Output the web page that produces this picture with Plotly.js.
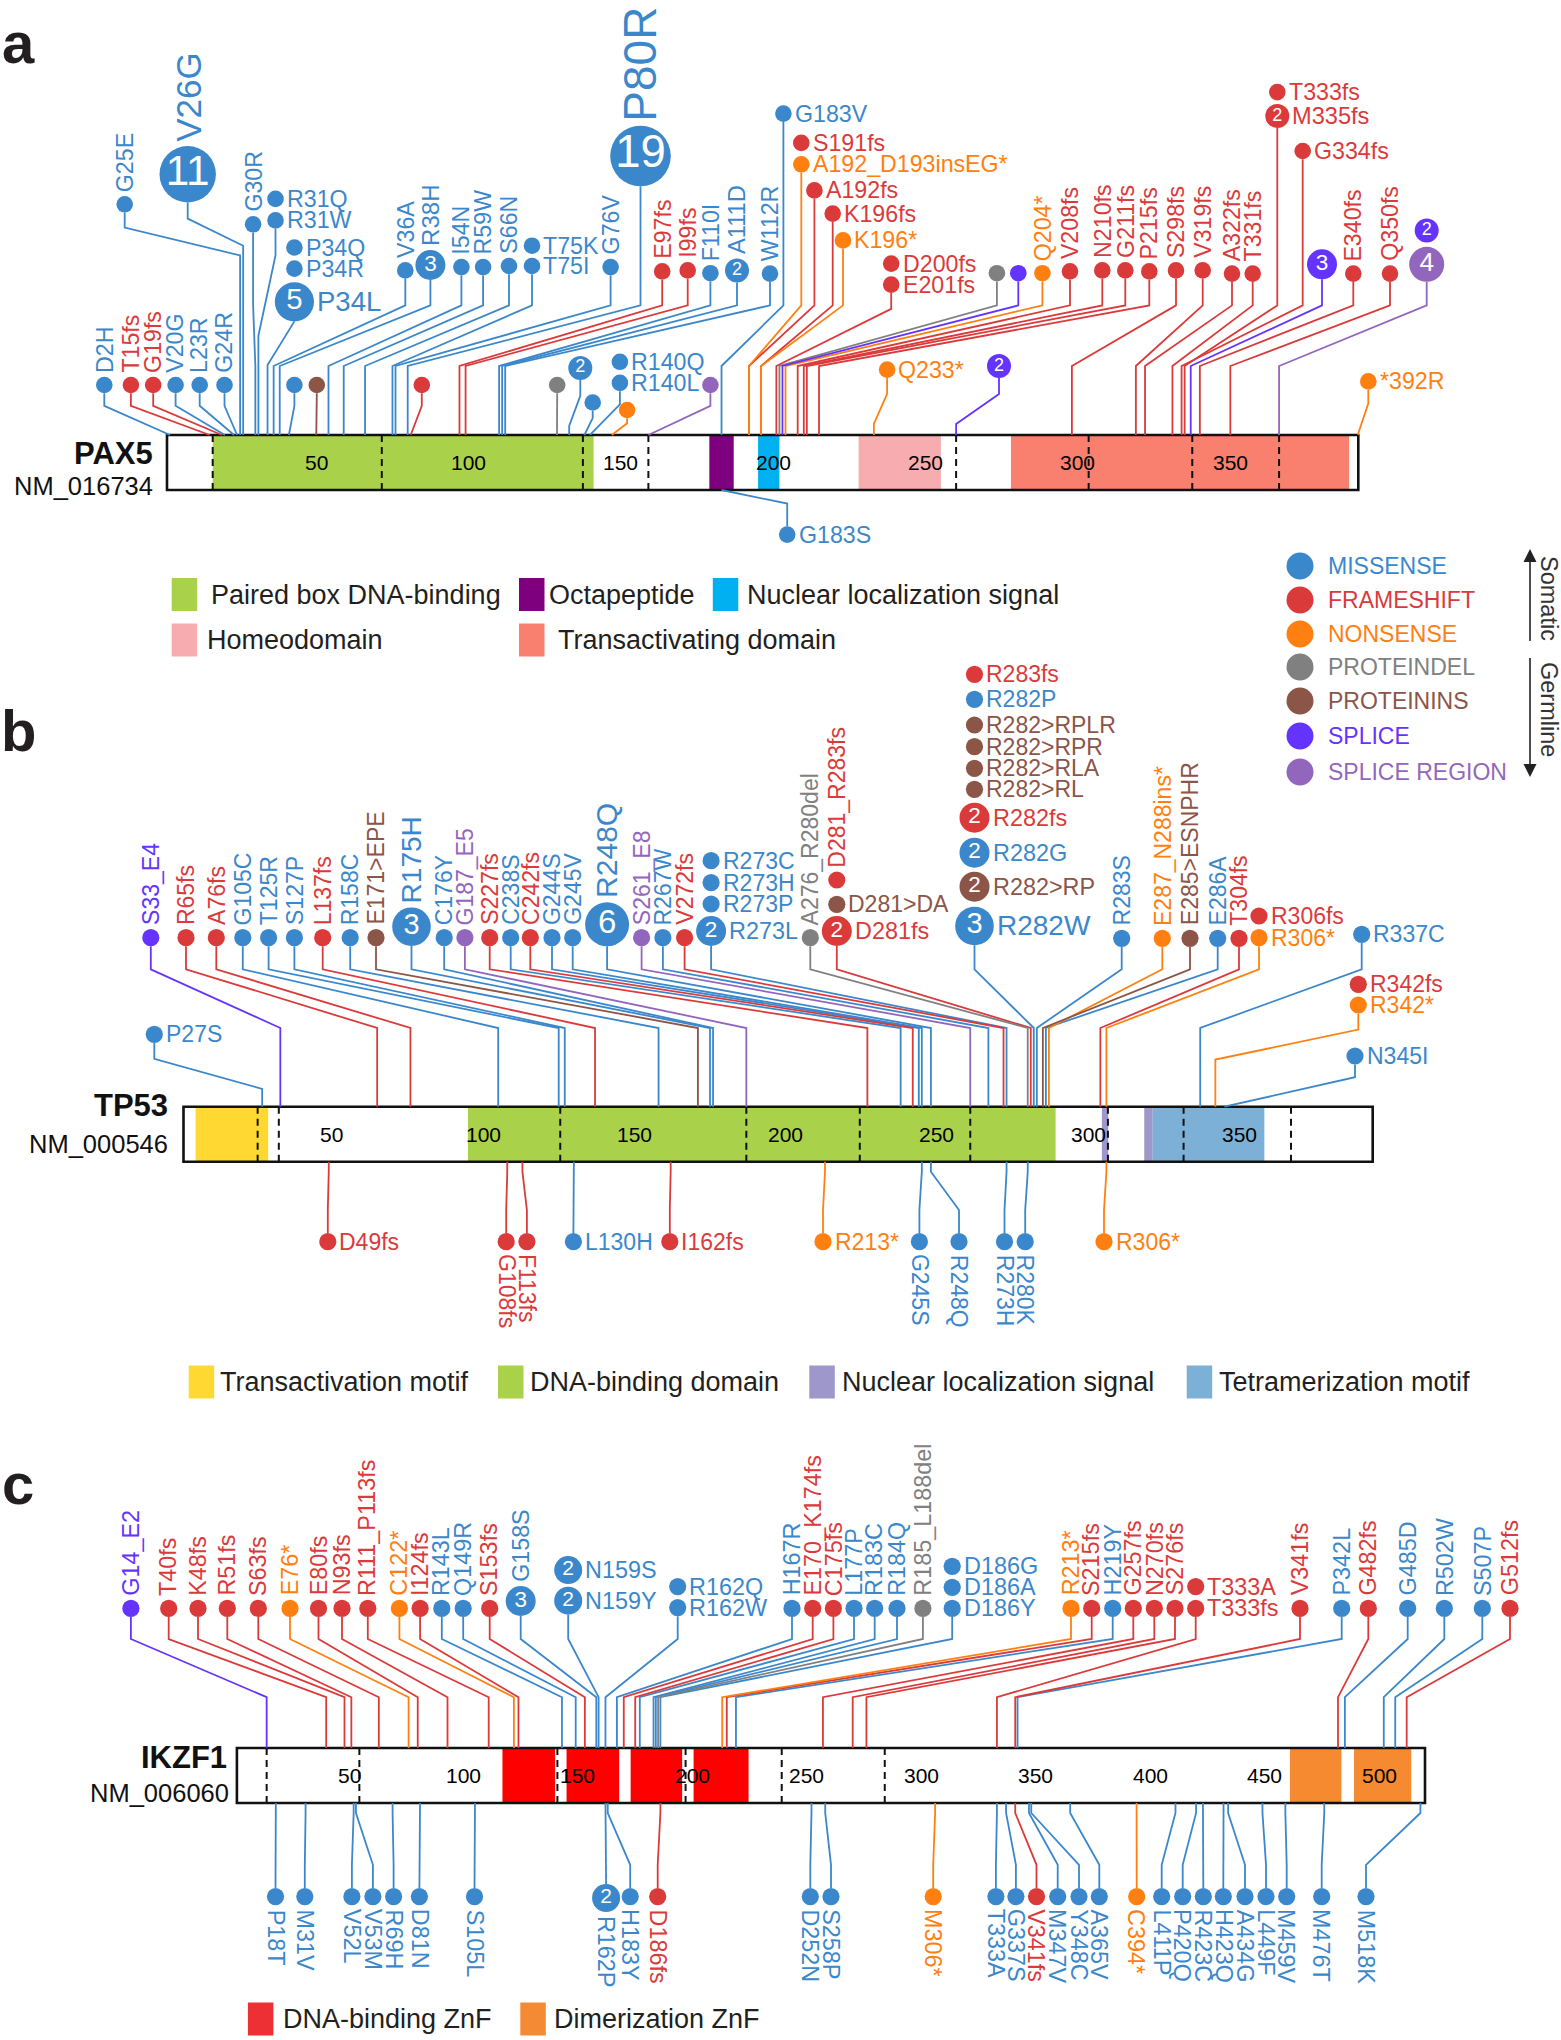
<!DOCTYPE html>
<html>
<head>
<meta charset="utf-8">
<script src="https://cdn.plot.ly/plotly-3.0.1.min.js"></script>
<style>html,body{margin:0;padding:0;background:#fff;}#chart{width:1561px;height:2040px;}</style>
</head>
<body>
<div id="chart"></div>
<script>
// ===================== DATA =====================
const mutTypes = ['MISSENSE','FRAMESHIFT','NONSENSE','PROTEINDEL','PROTEININS','SPLICE','SPLICE REGION'];

// ---------- PAX5 ----------
const pax5Gene = 'PAX5', pax5Tx = 'NM_016734', pax5Length = 391;
const pax5Ticks = [50,100,150,200,250,300,350];
const pax5ExonBounds = [16,71.5,137.5,159,260,303.5,337.5,366];
const pax5DomainNames = ['Paired box DNA-binding','Octapeptide','Nuclear localization signal','Homeodomain','Transactivating domain'];
const pax5DomainStart = [16,179,195,228,278];
const pax5DomainEnd = [141,187,202,255,389];
const pax5Label = ['D2H','T15fs','G19fs','V20G','L23R','G24R','G25E','V26G','G30R','R31Q',
 'R31W','P34Q','P34R','P34L','','','','V36A','R38H','I54N',
 'R59W','S66N','T75K','T75I','G76V','P80R','E97fs','I99fs','F110I','A111D',
 'W112R','','','','R140Q','R140L','','','G183V','G183S',
 'S191fs','A192_D193insEG*','A192fs','K196fs','K196*','D200fs','E201fs','','','Q204*',
 'V208fs','N210fs','G211fs','P215fs','Q233*','','S298fs','V319fs','A322fs','T331fs',
 'T333fs','M335fs','G334fs','','E340fs','Q350fs','','','*392R'];
const pax5Pos = [2,15,19,20,23,24,25,26,30,31,
 31,34,34,34,41,50,81,36,38,54,
 59,66,75,75,76,80,97,99,110,111,
 112,129,133,138,140,140,147,159,183,183,
 191,192,192,196,196,200,201,202,203,204,
 208,210,211,215,233,260,298,319,322,331,
 333,335,334,337,340,350,366,366,392];
const pax5Type = [0,1,1,0,0,0,0,0,0,0,
 0,0,0,0,0,4,1,0,0,0,
 0,0,0,0,0,0,1,1,0,0,
 0,3,0,0,0,0,2,6,0,0,
 1,2,1,1,2,1,1,3,5,2,
 1,1,1,1,2,5,1,1,1,1,
 1,1,1,5,1,1,5,6,2];
const pax5Count = [1,1,1,1,1,1,1,11,1,1,
 1,1,1,5,1,1,1,1,3,1,
 1,1,1,1,1,19,1,1,1,2,
 1,1,2,1,1,1,1,1,1,1,
 1,1,1,1,1,1,1,1,1,1,
 1,1,1,1,1,2,1,1,1,1,
 1,2,1,3,1,1,2,4,1];

// ---------- TP53 ----------
const tp53Gene = 'TP53', tp53Tx = 'NM_000546', tp53Length = 393;
const tp53Ticks = [50,100,150,200,250,300,350];
const tp53ExonBounds = [25.5,32.5,125.5,187,224.5,261,306.5,331.5,367];
const tp53DomainNames = ['Transactivation motif','DNA-binding domain','Nuclear localization signal','Nuclear localization signal','Tetramerization motif'];
const tp53DomainStart = [5,95,304.5,318.5,321.3];
const tp53DomainEnd = [29,289.2,306.6,321.3,358.2];
const tp53Label = ['P27S','S33_E4','R65fs','A76fs','G105C','T125R','S127P','L137fs','R158C','E171>EPE',
 'R175H','C176Y','G187_E5','S227fs','C238S','C242fs','G244S','G245V','R248Q','S261_E8',
 'R267W','V272fs','R273C','R273H','R273P','R273L','A276_R280del','D281_R283fs','D281>DA','D281fs',
 'R283fs','R282P','R282>RPLR','R282>RPR','R282>RLA','R282>RL','R282fs','R282G','R282>RP','R282W',
 'R283S','E287_N288ins*','E285>ESNPHR','E286A','T304fs','R306fs','R306*','R337C','R342fs','R342*',
 'N345I','D49fs','G108fs','F113fs','L130H','I162fs','R213*','G245S','R248Q','R273H',
 'R280K','R306*'];
const tp53Pos = [27,33,65,76,105,125,127,137,158,171,
 175,176,187,227,238,242,244,245,248,261,
 267,272,273,273,273,273,280,281,281,281,
 283,282,282,282,282,282,282,282,282,282,
 283,287,285,286,304,306,306,337,342,342,
 345,49,108,113,130,162,213,245,248,273,
 280,306];
const tp53Type = [0,5,1,1,0,0,0,1,0,4,
 0,0,6,1,0,1,0,0,0,6,
 0,1,0,0,0,0,3,1,4,1,
 1,0,4,4,4,4,1,0,4,0,
 0,2,4,0,1,1,2,0,1,2,
 0,1,1,1,0,1,2,0,0,0,
 0,2];
const tp53Count = [1,1,1,1,1,1,1,1,1,1,
 3,1,1,1,1,1,1,1,6,1,
 1,1,1,1,1,2,1,1,1,2,
 1,1,1,1,1,1,2,2,2,3,
 1,1,1,1,1,1,1,1,1,1,
 1,1,1,1,1,1,1,1,1,1,
 1,1];

// ---------- IKZF1 ----------
const ikzf1Gene = 'IKZF1', ikzf1Tx = 'NM_006060', ikzf1Length = 519;
const ikzf1Ticks = [50,100,150,200,250,300,350,400,450,500];
const ikzf1ExonBounds = [14,54.5,141,197,239,284];
const ikzf1DomainNames = ['DNA-binding ZnF','DNA-binding ZnF','DNA-binding ZnF','DNA-binding ZnF','Dimerization ZnF','Dimerization ZnF'];
const ikzf1DomainStart = [117,145,173,200.5,461,489];
const ikzf1DomainEnd = [140,168,195.5,224.5,483.5,514];
const ikzf1Label = ['G14_E2','T40fs','K48fs','R51fs','S63fs','E76*','E80fs','N93fs','R111_P113fs','C122*',
 'I124fs','R143L','Q149R','S153fs','G158S','N159S','N159Y','R162Q','R162W','H167R',
 'E170_K174fs','C175fs','L177P','R183C','R184Q','R185_L188del','D186G','D186A','D186Y','R213*',
 'S215fs','H219Y','G257fs','N270fs','S276fs','T333A','T333fs','V341fs','P342L','G482fs',
 'G485D','R502W','S507P','G512fs','P18T','M31V','V52L','V53M','R69H','D81N',
 'S105L','R162P','H183Y','D186fs','D252N','S258P','M306*','T333A','G337S','V341fs',
 'M347V','Y348C','A365V','C394*','L411P','P420Q','R423C','H423Q','A434G','L449F',
 'M459V','M476T','M518K'];
const ikzf1Pos = [14,40,48,51,63,76,80,93,111,122,
 124,143,149,153,158,159,159,162,162,167,
 170,175,177,183,184,185,186,186,186,213,
 215,219,257,270,276,333,333,341,342,482,
 485,502,507,512,18,31,52,53,69,81,
 105,162,163,186,252,258,306,333,337,341,
 347,348,365,394,411,420,423,432,434,449,
 459,476,518];
const ikzf1Type = [5,1,1,1,1,2,1,1,1,2,
 1,0,0,1,0,0,0,0,0,0,
 1,1,0,0,0,3,0,0,0,2,
 1,0,1,1,1,1,1,1,0,1,
 0,0,0,1,0,0,0,0,0,0,
 0,0,0,1,0,0,2,0,0,1,
 0,0,0,2,0,0,0,0,0,0,
 0,0,0];
const ikzf1Count = [1,1,1,1,1,1,1,1,1,1,
 1,1,1,1,3,2,2,1,1,1,
 1,1,1,1,1,1,1,1,1,1,
 1,1,1,1,1,1,1,1,1,1,
 1,1,1,1,1,1,1,1,1,1,
 1,2,1,1,1,1,1,1,1,1,
 1,1,1,1,1,1,1,1,1,1,
 1,1,1];

// ===================== STYLE / LAYOUT =====================
const FONT = 'Liberation Sans, Arial, Helvetica, sans-serif';
const W = 1561, H = 2040, BAR_H = 55;
const mutColors = ['#3b87cb','#db3a3b','#ff8011','#808080','#8b5547','#6433fe','#9366bd'];
const pax5DomainColors = ['#a9d14a','#7f007f','#00b0f0','#f7adb0','#f9806f'];
const tp53DomainColors = ['#ffd932','#a9d14a','#9d97cb','#9d97cb','#7db0d6'];
const ikzf1DomainColors = ['#ff0000','#ff0000','#ff0000','#ff0000','#f58a31','#f58a31'];
const radiusByCount = {a:{1:8.3,2:12,3:15,4:17.5,5:19.6,11:28.2,19:30.3}, b:{1:8.6,2:15,3:19.3,6:22}, c:{1:8.6,2:14,3:15}};
const fontByCount = {a:{1:23.2,2:23.6,3:24,4:24,5:27.5,11:35,19:46}, b:{1:23,2:23.4,3:28,6:30}, c:{1:23.4,2:23.4,3:23.2}};
const panelGeom = {
  a:{barLeft:167, barRight:1358.3, barTop:435, top:0, bottom:660, E2:129.6, E1:69, bE2:13.6, bE1:4.6},
  b:{barLeft:183.5, barRight:1372.7, barTop:1106.7, top:660, bottom:1430, E2:137.4, E1:78.7, bE2:48.3, bE1:10},
  c:{barLeft:236.9, barRight:1425, barTop:1748, top:1430, bottom:2040, E2:109, E1:50.8, bE2:61.8, bE1:10}
};
// lollipop head placement (label-dodging layout, page px): [x, y, labelMode, elbowHi?, elbowLo?]
const pax5Head = [
 [104.3,385,'v'],[130.9,385,'v'],[153.2,385,'v'],[175.6,385,'v'],[199.7,385,'v'],[224.5,385,'v'],
 [124.7,204.3,'v',207.5,179.6],[187.7,174.3,'v',216.4,189.3],[253.1,224.3,'v'],[275.5,198.9,'h'],
 [275.5,220.4,'h',179.6,99.3],[294.4,247.5,'h'],[294.4,268.6,'h'],[294.4,301.8,'h',113.6,70],[294.4,385,'n'],[316.8,385,'n'],[421.8,385,'n'],[405.3,270.4,'v'],[430.4,265,'v'],[461.4,267.1,'v'],
 [483.1,267.1,'v'],[509,266,'v'],[532,245.7,'h'],[532,266,'h'],[610.6,267.1,'v'],[640.5,156,'v'],[662.2,271.4,'v'],[687.7,270.4,'v'],[710.4,273.2,'v'],[737,270.4,'v'],
 [770,273.6,'v'],[557.2,385,'n'],[580.3,367.9,'n'],[592.7,402.5,'n'],[619.9,361.8,'h'],[619.9,382.9,'h'],[627.1,410,'n'],[710.4,385,'n'],[783.4,113.6,'h'],[787.2,534.6,'h'],
 [801.3,142.9,'h'],[801.3,164.3,'h'],[814.4,190.4,'h'],[832.7,213.6,'h'],[843,240.4,'h'],[891.2,263.6,'h'],[891.2,284.6,'h'],[996.9,273.2,'n'],[1018.3,273.2,'n'],[1042.4,273.2,'v'],
 [1070,271.4,'v'],[1102.3,270.4,'v'],[1125.3,270.4,'v'],[1149.3,271.4,'v'],[887.1,369.6,'h'],[999,366,'n'],[1176,270.4,'v'],[1202.7,270.4,'v'],[1232,273.6,'v'],[1252.7,273.6,'v'],
 [1277.3,92.1,'h'],[1277.3,116,'h'],[1302.7,151,'h'],[1322,264.3,'n'],[1353.3,273.6,'v'],[1390,273.6,'v'],[1426.7,230.4,'n'],[1426.7,264.3,'n'],[1368.3,381.4,'h']
];
const tp53Head = [
 [154.3,1034.3,'h'],[150.8,937.7,'v'],[186,937.7,'v'],[216.3,937.7,'v'],[242.8,937.7,'v'],[268.6,937.7,'v'],[294.4,937.7,'v'],[322.7,937.7,'v'],[350.2,937.7,'v'],[376,937.7,'v'],
 [411.5,926.7,'v'],[444.2,937.7,'v'],[464.9,937.7,'v'],[489.7,937.7,'v'],[510.7,937.7,'v'],[530.3,937.7,'v'],[552,937.7,'v'],[572.7,937.7,'v'],[607.1,924.3,'v'],[641.6,937.7,'v'],
 [662.9,937.7,'v'],[684.6,937.7,'v'],[711.1,860.7,'h'],[711.1,882.7,'h'],[711.1,904,'h'],[711.1,931,'h'],[810.3,937.7,'v'],[836.8,880,'v'],[836.8,904.3,'h'],[836.8,931,'h'],
 [974.5,674.3,'h'],[974.5,699.3,'h'],[974.5,725,'h'],[974.5,746.7,'h'],[974.5,768.3,'h'],[974.5,789.3,'h'],[974.5,817.7,'h'],[974.5,852.7,'h'],[974.5,886.7,'h'],[974.5,926,'h'],
 [1121.7,938.3,'v'],[1162.3,938.3,'v'],[1190,938.3,'v'],[1217.7,938.3,'v'],[1239,938.3,'v'],[1259,916,'h'],[1259,937.7,'h'],[1361.7,934.3,'h'],[1358.3,984.3,'h'],[1358.3,1005,'h'],
 [1355,1056,'h'],[327.8,1241.7,'h'],[506.2,1241.7,'d'],[526.9,1241.7,'d'],[573.4,1241.7,'h'],[669.8,1241.7,'h'],[823,1241.7,'h'],[919.4,1241.7,'d'],[959,1241.7,'d'],[1004.5,1241.7,'d'],
 [1025.2,1241.7,'d'],[1104,1241.7,'h']
];
const ikzf1Head = [
 [130.9,1608.4,'v'],[168.7,1608.4,'v'],[198,1608.4,'v'],[227.3,1608.4,'v'],[258.3,1608.4,'v'],[290,1608.4,'v'],[318.5,1608.4,'v'],[342,1608.4,'v'],[367.8,1608.4,'v'],[399.4,1608.4,'v'],
 [420.1,1608.4,'v'],[441.8,1608.4,'v'],[463.2,1608.4,'v'],[489.7,1608.4,'v'],[520.7,1601,'v'],[568.2,1570.1,'h'],[568.2,1600.7,'h'],[677.7,1586.6,'h'],[677.7,1607.6,'h'],[792,1608.4,'v'],
 [812.7,1608.4,'v'],[833.4,1608.4,'v'],[854,1608.4,'v'],[874.7,1608.4,'v'],[897,1608.4,'v'],[922.9,1608.4,'v'],[952.2,1566.3,'h'],[952.2,1587.3,'h'],[952.2,1608.4,'h'],[1071,1608.4,'v'],
 [1091.7,1608.4,'v'],[1112.7,1608.4,'v'],[1133.3,1608.4,'v'],[1154.3,1608.4,'v'],[1175,1608.4,'v'],[1195.7,1586.6,'h'],[1195.7,1608.4,'h'],[1300,1608.4,'v'],[1341.7,1608.4,'v'],[1368.3,1608.4,'v'],
 [1407.7,1608.4,'v'],[1444.3,1608.4,'v'],[1482.3,1608.4,'v'],[1510,1608.4,'v'],[275.5,1896.6,'d'],[304.8,1896.6,'d'],[351.9,1896.6,'d'],[372.9,1896.6,'d'],[393.6,1896.6,'d'],[419.4,1896.6,'d'],
 [474.5,1896.6,'d'],[606.1,1898,'d'],[630.2,1896.6,'d'],[657.7,1896.6,'d'],[810.3,1896.6,'d'],[831,1896.6,'d'],[933.2,1896.6,'d'],[995.9,1896.6,'d'],[1015.9,1896.6,'d'],[1036.5,1896.6,'d'],
 [1057.7,1896.6,'d'],[1079,1896.6,'d'],[1099.3,1896.6,'d'],[1136.7,1896.6,'d'],[1161.7,1896.6,'d'],[1182.7,1896.6,'d'],[1203.3,1896.6,'d'],[1223.3,1896.6,'d'],[1245,1896.6,'d'],[1266,1896.6,'d'],
 [1286.7,1896.6,'d'],[1321.7,1896.6,'d'],[1366,1896.6,'d']
];
// domain legend placement: [squareLeft, textLeft, centerY] per unique domain name
const pax5LegendPos = [[171.7,210.7,594.5],[519,549,594.5],[712.8,746.7,594.5],[171.7,206.8,640],[519,558,640]];
const tp53LegendPos = [[188.7,220.4,1382],[498,530.3,1382],[809.3,842,1382],[1186.7,1219.3,1382]];
const ikzf1LegendPos = [[247.9,283,2019],[520.3,554.4,2019]];
const ikzf1LegendColors = ['#ec3033','#f58a35'];

// ===================== BUILD =====================
const traces = [], shapes = [], annotations = [];
const layout = {
  width: W, height: H, margin:{l:0,r:0,t:0,b:0},
  paper_bgcolor:'#ffffff', plot_bgcolor:'rgba(0,0,0,0)', showlegend:false,
  font:{family:FONT, color:'#222'}
};
const px2paperX = px => px / W;
const px2paperY = py => 1 - py / H;

function addPanel(key, axIdx, d) {
  const g = panelGeom[key];
  const xa = axIdx === 1 ? 'x' : 'x' + axIdx;
  const ya = axIdx === 1 ? 'y' : 'y' + axIdx;
  const xk = axIdx === 1 ? 'xaxis' : 'xaxis' + axIdx;
  const yk = axIdx === 1 ? 'yaxis' : 'yaxis' + axIdx;
  const s = (g.barRight - g.barLeft) / d.len;
  const px2aa = px => 1 + (px - g.barLeft) / s;
  layout[xk] = {domain:[0,1], range:[px2aa(0), px2aa(W)], visible:false, fixedrange:true, anchor:ya};
  layout[yk] = {domain:[1 - g.bottom / H, 1 - g.top / H], range:[g.barTop - g.bottom, g.barTop - g.top], visible:false, fixedrange:true, anchor:xa};

  // protein bar
  shapes.push({type:'rect', xref:xa, yref:ya, x0:1, x1:d.len + 1, y0:-BAR_H, y1:0, fillcolor:'#ffffff', line:{width:0}, layer:'below'});
  d.domStart.forEach((st, i) => shapes.push({type:'rect', xref:xa, yref:ya, x0:st, x1:d.domEnd[i], y0:-BAR_H, y1:0,
    fillcolor:d.domColor[i], line:{width:0}, layer:'below'}));
  d.exons.forEach(e => shapes.push({type:'line', xref:xa, yref:ya, x0:e, x1:e, y0:-BAR_H, y1:0,
    line:{color:'#111', width:2, dash:'7px,5px'}, layer:'below'}));
  shapes.push({type:'rect', xref:xa, yref:ya, x0:1, x1:d.len + 1, y0:-BAR_H, y1:0, fillcolor:'rgba(0,0,0,0)',
    line:{color:'#111', width:2.6}, layer:'below'});
  d.ticks.forEach(t => annotations.push({xref:xa, yref:ya, x:t, y:-BAR_H / 2, text:String(t), showarrow:false,
    font:{family:FONT, size:21, color:'#000'}, xanchor:'center', yanchor:'middle'}));

  // gene name
  annotations.push({xref:'paper', yref:'paper', x:px2paperX(d.nameRight + 2), y:px2paperY(d.nameY), text:'<b>' + d.gene + '</b>',
    showarrow:false, xanchor:'right', yanchor:'middle', font:{family:FONT, size:31, color:'#111'}});
  annotations.push({xref:'paper', yref:'paper', x:px2paperX(d.txRight + 2), y:px2paperY(d.txY), text:d.tx,
    showarrow:false, xanchor:'right', yanchor:'middle', font:{family:FONT, size:25.5, color:'#111'}});

  // items
  const items = d.label.map((lab, i) => {
    const [hx, hy, mode, oe2, oe1] = d.head[i];
    const r = radiusByCount[key][d.count[i]] || (8.5 + 7.4 * Math.log(d.count[i]));
    const top = hy < g.barTop;
    const dist = top ? g.barTop - hy : hy - (g.barTop + BAR_H);
    return {i, lab, hx, hy, mode, oe2, oe1, r, top, dist, pos:d.pos[i], type:d.type[i], count:d.count[i]};
  });
  const stemX = mutTypes.map(() => []), stemY = mutTypes.map(() => []);
  const mx = [], my = [], ms = [], mc = [], mt = [], mfs = [];
  items.forEach(it => {
    const hxA = px2aa(it.hx);
    const sign = it.top ? 1 : -1;
    const base = it.top ? 0 : -BAR_H;
    const headY = base + sign * it.dist;
    // stem (skip when another head of the same stack is nearer to the bar)
    const stacked = items.some(o => o !== it && o.top === it.top && Math.abs(o.hx - it.hx) < 2 &&
      o.dist < it.dist && (it.dist - o.dist) < it.r + o.r + 14);
    if (!stacked) {
      const E2 = it.top ? g.E2 : g.bE2, E1 = it.top ? g.E1 : g.bE1;
      const free = it.dist - it.r;
      const stub = Math.min(16, free * 0.3);
      const e2 = (it.oe2 !== undefined) ? it.oe2 : Math.max(0, Math.min(E2, free - stub));
      const e1 = (it.oe1 !== undefined) ? it.oe1 : Math.max(0, Math.min(E1, e2 - 30));
      stemX[it.type].push(it.pos, it.pos, hxA, hxA, null);
      stemY[it.type].push(base, base + sign * e1, base + sign * e2, base + sign * free, null);
    }
    mx.push(hxA); my.push(headY); ms.push(it.r * 2); mc.push(mutColors[it.type]);
    mt.push(it.count > 1 ? String(it.count) : ''); mfs.push(it.r * 1.5);
    // label
    if (it.lab && it.mode !== 'n') {
      const fs = fontByCount[key][it.count] || 23;
      const font = {family:FONT, size:fs, color:mutColors[it.type]};
      const common = {xref:xa, yref:ya, text:it.lab, showarrow:false, font, borderpad:0, borderwidth:0};
      if (it.mode === 'v') {
        annotations.push(Object.assign({x:hxA, y:headY + it.r + 4, textangle:-90, xanchor:'center', yanchor:'bottom'}, common));
      } else if (it.mode === 'd') {
        annotations.push(Object.assign({x:hxA, y:headY - it.r - 4, textangle:90, xanchor:'center', yanchor:'top'}, common));
      } else {
        annotations.push(Object.assign({x:px2aa(it.hx + it.r + 3), y:headY, xanchor:'left', yanchor:'middle'}, common));
      }
    }
  });
  mutTypes.forEach((t, k) => {
    if (stemX[k].length) traces.push({type:'scatter', mode:'lines', xaxis:xa, yaxis:ya, x:stemX[k], y:stemY[k],
      line:{color:mutColors[k], width:1.8}, hoverinfo:'skip', cliponaxis:false, connectgaps:false});
  });
  traces.push({type:'scatter', mode:'markers+text', xaxis:xa, yaxis:ya, x:mx, y:my, text:mt,
    textposition:'middle center', textfont:{family:FONT, color:'#ffffff', size:mfs},
    marker:{size:ms, color:mc, opacity:1, line:{width:0}}, hoverinfo:'skip', cliponaxis:false});

  // domain legend
  const uniq = [];
  d.domName.forEach((n, i) => { if (!uniq.some(u => u.name === n)) uniq.push({name:n, color:d.domColor[i]}); });
  uniq.forEach((u, k) => {
    const [sq, tx, cy] = d.legendPos[k];
    const col = d.legendColors ? d.legendColors[k] : u.color;
    shapes.push({type:'rect', xref:'paper', yref:'paper', x0:px2paperX(sq), x1:px2paperX(sq + 25.5),
      y0:px2paperY(cy + 16.5), y1:px2paperY(cy - 16.5), fillcolor:col, line:{width:0}});
    annotations.push({xref:'paper', yref:'paper', x:px2paperX(tx - 2), y:px2paperY(cy), text:u.name, showarrow:false,
      xanchor:'left', yanchor:'middle', font:{family:FONT, size:27, color:'#231f20'}});
  });
}

addPanel('a', 1, {gene:pax5Gene, tx:pax5Tx, len:pax5Length, ticks:pax5Ticks, exons:pax5ExonBounds,
  domName:pax5DomainNames, domStart:pax5DomainStart, domEnd:pax5DomainEnd, domColor:pax5DomainColors,
  label:pax5Label, pos:pax5Pos, type:pax5Type, count:pax5Count, head:pax5Head,
  nameRight:153.2, nameY:453.6, txRight:153.2, txY:486, legendPos:pax5LegendPos});
addPanel('b', 2, {gene:tp53Gene, tx:tp53Tx, len:tp53Length, ticks:tp53Ticks, exons:tp53ExonBounds,
  domName:tp53DomainNames, domStart:tp53DomainStart, domEnd:tp53DomainEnd, domColor:tp53DomainColors,
  label:tp53Label, pos:tp53Pos, type:tp53Type, count:tp53Count, head:tp53Head,
  nameRight:168, nameY:1105, txRight:168, txY:1144.2, legendPos:tp53LegendPos});
addPanel('c', 3, {gene:ikzf1Gene, tx:ikzf1Tx, len:ikzf1Length, ticks:ikzf1Ticks, exons:ikzf1ExonBounds,
  domName:ikzf1DomainNames, domStart:ikzf1DomainStart, domEnd:ikzf1DomainEnd, domColor:ikzf1DomainColors,
  label:ikzf1Label, pos:ikzf1Pos, type:ikzf1Type, count:ikzf1Count, head:ikzf1Head,
  nameRight:227.3, nameY:1757.6, txRight:229, txY:1793, legendPos:ikzf1LegendPos, legendColors:ikzf1LegendColors});

// panel letters
[['a',42.5],['b',730],['c',1483]].forEach(([t, y]) => annotations.push({xref:'paper', yref:'paper', x:px2paperX(18), y:px2paperY(y),
  text:'<b>' + t + '</b>', showarrow:false, xanchor:'center', yanchor:'middle', font:{family:FONT, size:58, color:'#231f20'}}));

// mutation class legend
const legendRowY = [566, 600, 634, 667, 701, 736, 772];
mutTypes.forEach((t, k) => {
  const cy = legendRowY[k];
  shapes.push({type:'circle', xref:'paper', yref:'paper', x0:px2paperX(1300 - 13.5), x1:px2paperX(1300 + 13.5),
    y0:px2paperY(cy + 13.5), y1:px2paperY(cy - 13.5), fillcolor:mutColors[k], line:{width:0}});
  annotations.push({xref:'paper', yref:'paper', x:px2paperX(1326), y:px2paperY(cy), text:t, showarrow:false,
    xanchor:'left', yanchor:'middle', font:{family:FONT, size:23, color:mutColors[k]}});
});
// somatic / germline arrows
function vArrow(yFrom, yTip) {
  const x = 1530, dir = yTip < yFrom ? -1 : 1, baseY = yTip - dir * 13;
  shapes.push({type:'line', xref:'paper', yref:'paper', x0:px2paperX(x), x1:px2paperX(x), y0:px2paperY(yFrom), y1:px2paperY(baseY),
    line:{color:'#222', width:1.6}});
  shapes.push({type:'path', xref:'paper', yref:'paper', fillcolor:'#222', line:{width:0},
    path:`M ${px2paperX(x - 6.5)} ${px2paperY(baseY)} L ${px2paperX(x + 6.5)} ${px2paperY(baseY)} L ${px2paperX(x)} ${px2paperY(yTip)} Z`});
}
vArrow(641, 549);
vArrow(658, 777);
annotations.push({xref:'paper', yref:'paper', x:px2paperX(1549), y:px2paperY(598), text:'Somatic', textangle:90, showarrow:false,
  xanchor:'center', yanchor:'middle', font:{family:FONT, size:23.5, color:'#333'}});
annotations.push({xref:'paper', yref:'paper', x:px2paperX(1549), y:px2paperY(709), text:'Germline', textangle:90, showarrow:false,
  xanchor:'center', yanchor:'middle', font:{family:FONT, size:23.5, color:'#333'}});

layout.shapes = shapes;
layout.annotations = annotations;
Plotly.newPlot('chart', traces, layout, {staticPlot:true, displayModeBar:false});
</script>
</body>
</html>
